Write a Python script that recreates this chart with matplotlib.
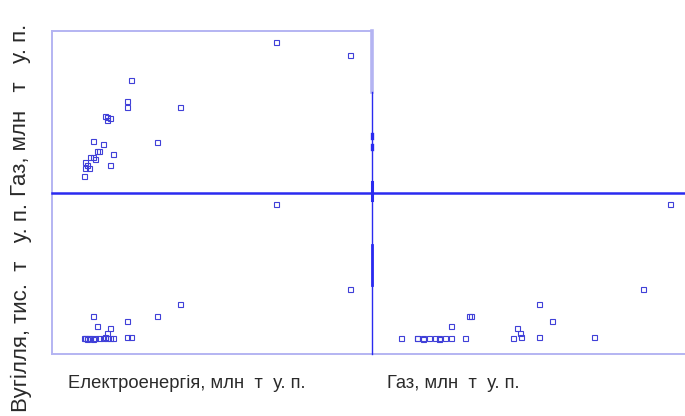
import matplotlib
matplotlib.use("Agg")
import matplotlib.pyplot as plt
from matplotlib.lines import Line2D

plt.rcParams['font.family'] = ['Liberation Sans', 'DejaVu Sans']

# regions: electricity (mln t c.e.), gas (mln t c.e.), coal (thous. t c.e.)
elec = [10.80, 14.50, 3.55, 3.34, 3.34, 6.00, 2.25, 2.37, 2.34, 2.50,
        4.85, 1.65, 2.15, 2.65, 1.85, 1.95, 1.65, 1.75, 1.50, 1.25,
        1.35, 1.45, 1.25, 2.50, 1.20]
gas = [15.13, 13.77, 11.33, 9.23, 8.57, 8.57, 7.70, 7.63, 7.30, 7.47,
       5.10, 5.20, 4.90, 3.90, 4.20, 4.20, 3.60, 3.40, 3.60, 3.10,
       2.80, 2.50, 2.50, 2.80, 1.70]
coal = [292, 122, 26, 58, 26, 92, 26, 34, 25, 44,
        68, 68, 24, 25, 48, 24, 23, 24, 25, 24,
        23, 24, 25, 24, 24]

label_elec = 'Електроенергія, млн  т  у. п.'
label_gas = 'Газ, млн  т  у. п.'
label_gas_y = 'Газ, млн   т   у. п.'
label_coal_y = 'Вугілля, тис.  т   у. п.'

W, H = 685, 416
dark = '#2a2af0'
light = '#b4b4f2'
mark = '#4040d8'


def fx(x):
    return x / W


def fy(y):
    return 1 - y / H


fig = plt.figure(figsize=(6.85, 4.16), dpi=100)

ax_tl = fig.add_axes([fx(52), fy(193), 320 / W, 162 / H])
ax_bl = fig.add_axes([fx(52), fy(354), 320 / W, 161 / H])
ax_br = fig.add_axes([fx(372), fy(354), 313 / W, 161 / H])

mk = dict(marker='s', linestyle='none', markersize=3.6, markerfacecolor='none',
          markeredgecolor=mark, markeredgewidth=0.8)

ax_tl.plot(elec, gas, **mk)
ax_bl.plot(elec, coal, **mk)
ax_br.plot(gas, coal, **mk)

ax_tl.set_xlim(-0.4, 15.6)
ax_bl.set_xlim(-0.4, 15.6)
ax_tl.set_ylim(0, 16.2)
ax_bl.set_ylim(-8, 314)
ax_br.set_ylim(-8, 314)
ax_br.set_xlim(0.23, 15.88)

for ax in (ax_tl, ax_bl, ax_br):
    ax.set_xticks([])
    ax.set_yticks([])
    ax.patch.set_alpha(0)
    for s in ax.spines.values():
        s.set_visible(False)

# frame lines
def line(x0, y0, x1, y1, color, lw):
    fig.add_artist(Line2D([fx(x0), fx(x1)], [fy(y0), fy(y1)], color=color,
                          lw=lw, transform=fig.transFigure))

line(52, 31, 372, 31, light, 1.4)
line(52, 31, 52, 354, light, 1.4)
line(52, 354, 685, 354, light, 1.4)
line(372, 31, 372, 92, light, 2.6)
line(372, 92, 372, 354, dark, 1.0)
line(52, 193, 685, 193, dark, 1.8)
line(372, 182, 372, 200, dark, 2.2)
line(372, 245, 372, 285, dark, 2.0)
line(372, 134, 372, 138, dark, 2.4)
line(372, 145, 372, 149, dark, 2.4)

fig.text(fx(68), fy(383), label_elec, fontsize=13.2, color='#2a2a2a',
         ha='left', va='center')
fig.text(fx(387), fy(383), label_gas, fontsize=13.2, color='#2a2a2a',
         ha='left', va='center')
fig.text(fx(21), fy(110), label_gas_y, fontsize=16, color='#2a2a2a',
         rotation=90, ha='center', va='center')
fig.text(fx(21), fy(308), label_coal_y, fontsize=16, color='#2a2a2a',
         rotation=90, ha='center', va='center')

fig.savefig('out.png', dpi=100)
